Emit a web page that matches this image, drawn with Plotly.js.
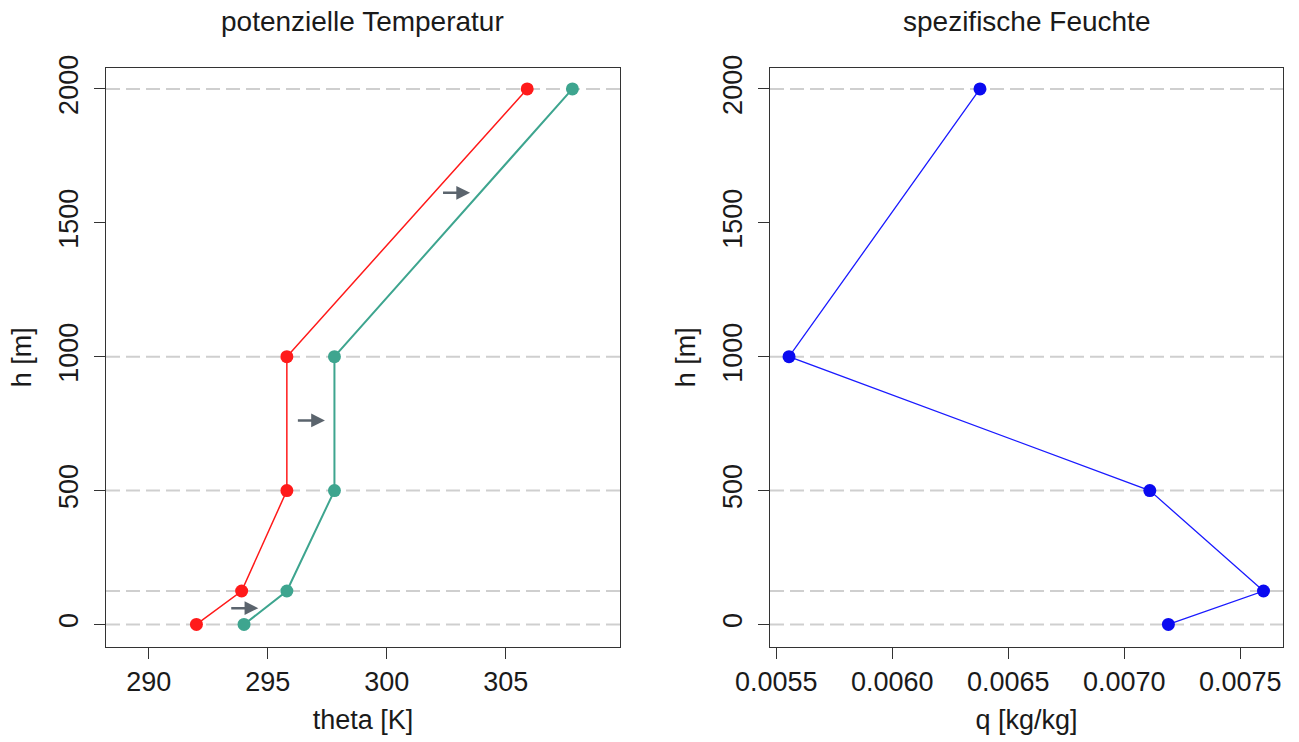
<!DOCTYPE html>
<html>
<head>
<meta charset="utf-8">
<script src="https://cdn.plot.ly/plotly-3.0.1.min.js"></script>
<style>html,body{margin:0;padding:0;background:#fff;}#chart{width:1299px;height:742px;}</style>
</head>
<body>
<div id="chart"></div>
<script>
// height levels [m]
const heights = [0, 125, 500, 1000, 2000];
// potential temperature [K]
const thetaBefore = [292.0, 293.9, 295.8, 295.8, 305.9];
const thetaAfter  = [294.0, 295.8, 297.8, 297.8, 307.8];
// specific humidity [kg/kg]
const qValues = [0.00719, 0.00760, 0.00711, 0.005555, 0.006378];
// arrows (shift of theta profile)
const arrowStartX = [293.4, 296.2, 302.3];
const arrowEndX   = [294.6, 297.4, 303.5];
const arrowY      = [61, 762, 1612];
// tick labels
const thetaTicks = [290, 295, 300, 305];
const qTicks = [0.0055, 0.0060, 0.0065, 0.0070, 0.0075];
const hTicks = [0, 500, 1000, 1500, 2000];

const FONT = 'Liberation Sans, Arial, sans-serif';
const TXT = '#1a1a1a';

const traces = [
  {x: thetaBefore, y: heights, xaxis: 'x', yaxis: 'y', type: 'scatter', mode: 'lines+markers',
   line: {color: '#ff1a1a', width: 1.5}, marker: {color: '#ff1a1a', size: 13}, showlegend: false},
  {x: thetaAfter, y: heights, xaxis: 'x', yaxis: 'y', type: 'scatter', mode: 'lines+markers',
   line: {color: '#3ea58f', width: 2}, marker: {color: '#3ea58f', size: 13}, showlegend: false},
  {x: qValues, y: heights, xaxis: 'x2', yaxis: 'y2', type: 'scatter', mode: 'lines+markers',
   line: {color: '#1a1aff', width: 1.3}, marker: {color: '#0a0af0', size: 13}, showlegend: false}
];

const shapes = [];
['', '2'].forEach(function(s){
  heights.forEach(function(h){
    shapes.push({type: 'line', xref: 'x' + s + ' domain', yref: 'y' + s, x0: 0, x1: 1, y0: h, y1: h,
      line: {color: '#cfcfcf', width: 2, dash: '14px,6px'}, layer: 'below'});
  });
});

const ml = 100, mr = 10, mt = 60, mb = 90, W = 1299, H = 742;
const pw = W - ml - mr, ph = H - mt - mb;
function dx(a, b){ return [(a - ml) / pw, (b - ml) / pw]; }
const ydom = [1 - (646.7 - mt) / ph, 1 - (68 - mt) / ph];
const titleY = 1 - (21 - mt) / ph;

const annotations = arrowY.map(function(y, i){
  return {x: arrowEndX[i], y: y, ax: arrowStartX[i], ay: y, xref: 'x', yref: 'y', axref: 'x', ayref: 'y',
    showarrow: true, arrowhead: 2, arrowsize: 1.1, arrowwidth: 2.5, arrowcolor: '#5b646d', text: ''};
});
annotations.push({text: 'potenzielle Temperatur', xref: 'x domain', yref: 'paper', x: 0.5, y: titleY,
  xanchor: 'center', yanchor: 'middle', showarrow: false, font: {family: FONT, size: 28, color: TXT}});
annotations.push({text: 'spezifische Feuchte', xref: 'x2 domain', yref: 'paper', x: 0.5, y: titleY,
  xanchor: 'center', yanchor: 'middle', showarrow: false, font: {family: FONT, size: 28, color: TXT}});

const axCommon = {
  showline: true, mirror: true, linecolor: '#333', linewidth: 1.2,
  ticks: 'outside', ticklen: 11, tickwidth: 1.2, tickcolor: '#333',
  showgrid: false, zeroline: false, automargin: false,
  tickfont: {family: FONT, size: 27, color: TXT}
};
const titleFont = {family: FONT, size: 27, color: TXT};

const layout = {
  width: W, height: H,
  margin: {l: ml, r: mr, t: mt, b: mb},
  paper_bgcolor: '#fff', plot_bgcolor: '#fff',
  font: {family: FONT, color: TXT},
  xaxis: Object.assign({}, axCommon, {domain: dx(106, 620), range: [288.2, 309.8],
    tickvals: thetaTicks, ticktext: thetaTicks.map(String), ticklabelstandoff: 0,
    title: {text: 'theta [K]', font: titleFont, standoff: 13}}),
  yaxis: Object.assign({}, axCommon, {domain: ydom, range: [-83, 2078], anchor: 'x',
    tickvals: hTicks, ticktext: hTicks.map(String), tickangle: -90, ticklabelstandoff: 5,
    title: {text: 'h [m]', font: titleFont, standoff: 14}}),
  xaxis2: Object.assign({}, axCommon, {domain: dx(770, 1283), range: [0.005473, 0.007684], anchor: 'y2',
    tickvals: qTicks, ticktext: qTicks.map(function(v){return v.toFixed(4);}), ticklabelstandoff: 0,
    title: {text: 'q [kg/kg]', font: titleFont, standoff: 13}}),
  yaxis2: Object.assign({}, axCommon, {domain: ydom, range: [-83, 2078], anchor: 'x2',
    tickvals: hTicks, ticktext: hTicks.map(String), tickangle: -90, ticklabelstandoff: 5,
    title: {text: 'h [m]', font: titleFont, standoff: 14}}),
  shapes: shapes,
  annotations: annotations
};

Plotly.newPlot('chart', traces, layout, {displayModeBar: false, staticPlot: true});
</script>
</body>
</html>
